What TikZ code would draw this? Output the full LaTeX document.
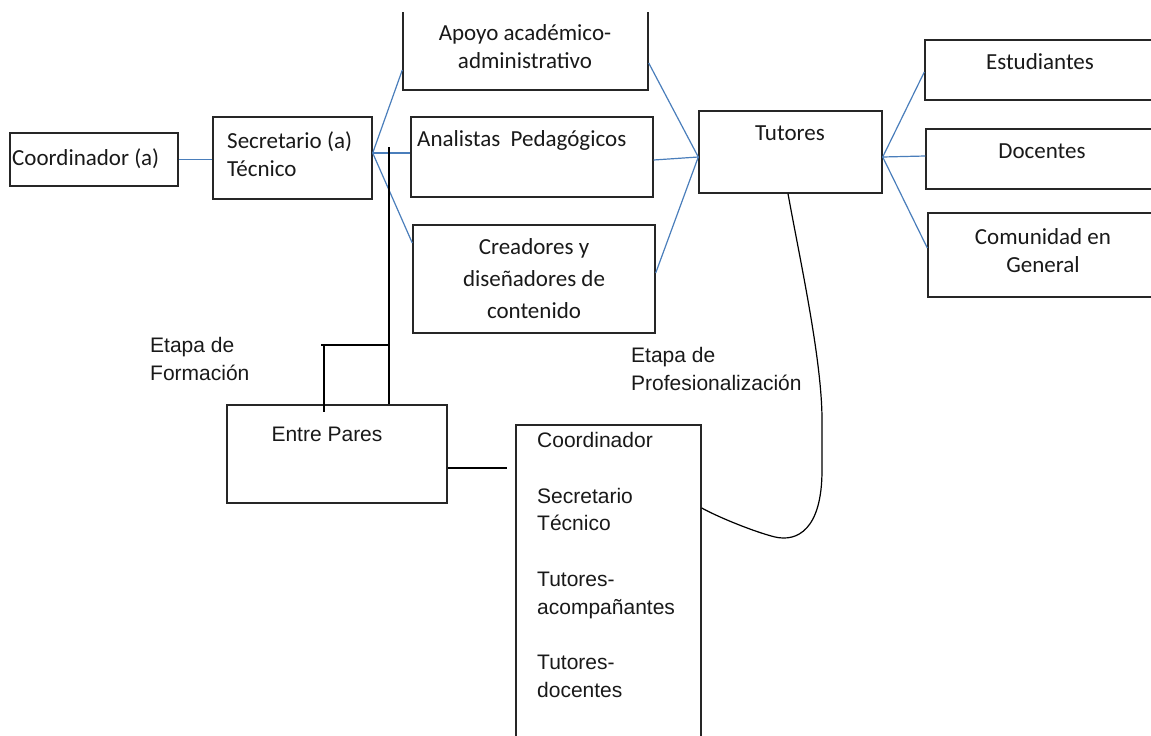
\documentclass[tikz,border=0pt]{standalone}
\usepackage{fontspec}
\setmainfont{Carlito}
\newfontfamily\arialf{Liberation Sans}
\definecolor{linkblue}{HTML}{4A7EBB}
\begin{document}
\begin{tikzpicture}[x=1pt,y=-1pt,
 box/.style={draw=black!85, line width=1.4pt, inner sep=0pt},
 conn/.style={draw=linkblue, line width=1.2pt},
 blk/.style={draw=black, line width=1.3pt},
 cal/.style={font=\fontsize{23}{28}\selectfont, inner sep=0pt, text=black!90},
 ari/.style={font=\arialf\fontsize{21}{28}\selectfont, inner sep=0pt, text=black!90}]
\useasboundingbox (0,0) rectangle (1151,736);
\begin{scope}
\clip (0,12) rectangle (1151,736);
% boxes
\node[box, minimum width=168pt, minimum height=53pt] (coord) at (94,159.5) {};
\node[box, minimum width=159pt, minimum height=82pt] (sec) at (292.5,158) {};
\node[box, minimum width=245pt, minimum height=120pt] (apoyo) at (525.5,30) {};
\node[box, minimum width=242pt, minimum height=80pt] (anal) at (532,157) {};
\node[box, minimum width=242pt, minimum height=108pt] (crea) at (534,279) {};
\node[box, minimum width=183pt, minimum height=82pt] (tut) at (790.5,152) {};
\node[box, minimum width=275pt, minimum height=60pt] (est) at (1062.5,70) {};
\node[box, minimum width=274pt, minimum height=60pt] (doc) at (1063,159) {};
\node[box, minimum width=272pt, minimum height=84pt] (com) at (1064,255) {};
\node[box, minimum width=220pt, minimum height=98pt] (pares) at (337,454) {};
\node[box, minimum width=185pt, minimum height=375pt] (lista) at (608.5,612.5) {};
% texts
\node[cal, anchor=west] (tcoord) at (12,159) {Coordinador (a)};
\node[cal, anchor=west, align=left] (tsec) at (227,154) {Secretario (a)\\Técnico};
\node[cal, align=center] (tapoyo) at (525,47) {Apoyo académico-\\administrativo};
\node[cal, anchor=west] (tanal) at (417,140) {Analistas\ \ Pedagógicos};
\node[cal, align=center, font=\fontsize{23}{32}\selectfont] (tcrea) at (534,279) {Creadores y\\diseñadores de\\contenido};
\node[cal] (ttut) at (790,133) {Tutores};
\node[cal] (test) at (1040,62) {Estudiantes};
\node[cal] (tdoc) at (1042,151) {Docentes};
\node[cal, align=center] (tcom) at (1043,251) {Comunidad en\\General};
\node[ari, anchor=west, align=left] (tform) at (150,359) {Etapa de\\Formación};
\node[ari, anchor=west, align=left] (tprof) at (631,369) {Etapa de\\Profesionalización};
\node[ari] (tpares) at (327,434) {Entre Pares};
\node[ari, anchor=west, align=left, font=\arialf\fontsize{21}{27.8}\selectfont] (tlista) at (537,565) {Coordinador\\[27.8pt]Secretario\\Técnico\\[27.8pt]Tutores-\\acompañantes\\[27.8pt]Tutores-\\docentes};
% blue connectors
\draw[conn] (coord.east) -- (coord.east -| sec.west);
\coordinate (S) at ([yshift=5pt]sec.east);
\draw[conn] (S) -- ([yshift=-40pt]apoyo.west);
\draw[conn] (S) -- (S -| anal.west);
\draw[conn] (S) -- ([yshift=36pt]crea.west);
\coordinate (T) at ([yshift=-5pt]tut.west);
\draw[conn] ([yshift=-33pt]apoyo.east) -- (T);
\draw[conn] ([yshift=-3pt]anal.east) -- (T);
\draw[conn] ([yshift=6pt]crea.east) -- (T);
\coordinate (R) at ([yshift=-5pt]tut.east);
\draw[conn] (R) -- ([yshift=-2pt]est.west);
\draw[conn] (R) -- ([yshift=3pt]doc.west);
\draw[conn] (R) -- ([yshift=7pt]com.west);
% black connectors
\coordinate (j1) at (389,147);
\coordinate (j3) at (321,345);
\coordinate (j4) at (324,412);
\draw[blk] (j1) -- (j1 |- pares.north);
\draw[blk] (j3) -- (j1 |- j3);
\draw[blk] (j4 |- j3) -- (j4);
\coordinate (pe) at (507,468);
\draw[blk] (pe -| pares.east) -- (pe);
\draw[black, line width=1.2pt] ([xshift=-2.5pt]tut.south) .. controls (800,260) and (822,360) .. (822,420) -- (822,470) .. controls (822,530) and (797,542) .. (775,537) .. controls (755,532) and (720,518) .. ([yshift=104.5pt]lista.east);
\end{scope}
\end{tikzpicture}
\end{document}
